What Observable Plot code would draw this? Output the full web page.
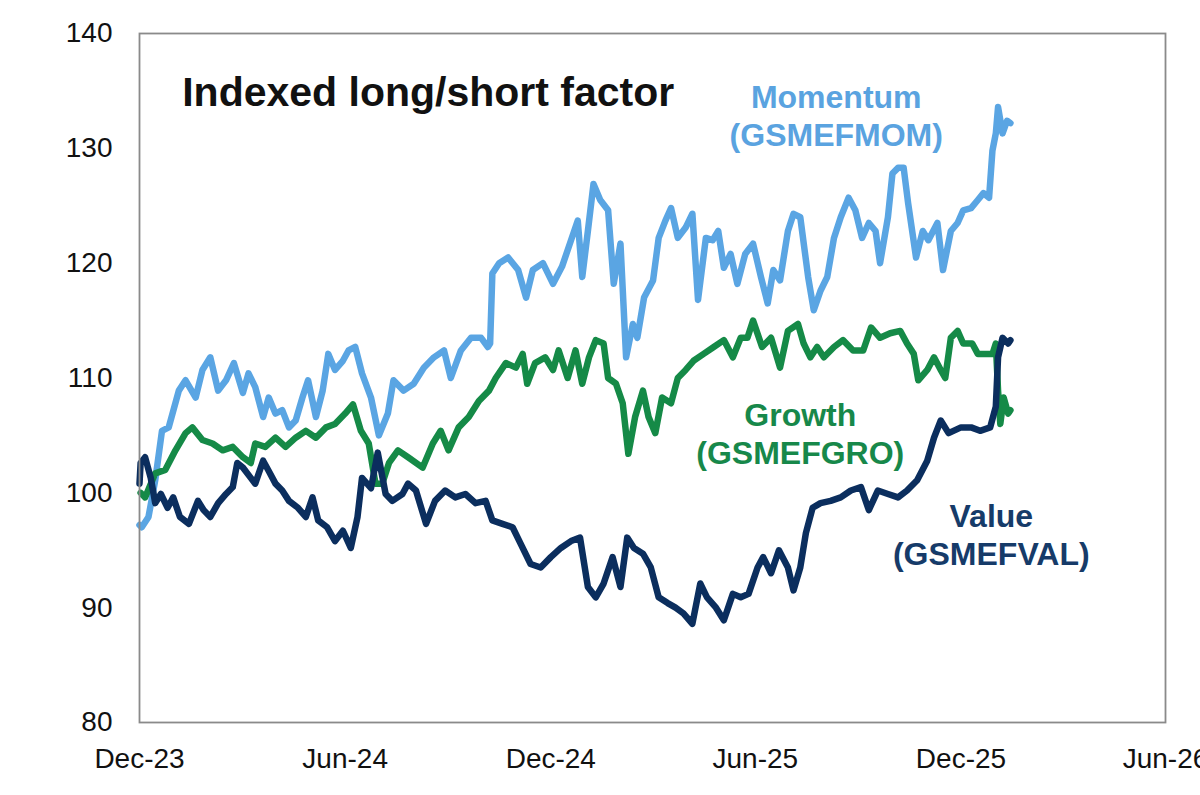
<!DOCTYPE html>
<html>
<head>
<meta charset="utf-8">
<script src="https://cdn.jsdelivr.net/npm/d3@7"></script>
<script src="https://cdn.jsdelivr.net/npm/@observablehq/plot@0.6"></script>
<style>
  html, body { margin: 0; padding: 0; background: #fff; }
  #chart { width: 1200px; height: 795px; }
</style>
</head>
<body>
<div id="chart"></div>
<script>
// ---- Tick labels ----
const xTickDates = ["2023-12-01", "2024-06-01", "2024-12-01", "2025-06-01", "2025-12-01", "2026-06-01"];
const yTicks = [80, 90, 100, 110, 120, 130, 140];

// ---- Momentum (GSMEFMOM) ----
const momDates = ["2023-12-01","2023-12-03","2023-12-09","2023-12-15","2023-12-21","2023-12-27","2024-01-05","2024-01-11","2024-01-20","2024-01-26","2024-02-02","2024-02-09","2024-02-16","2024-02-23","2024-03-02","2024-03-07","2024-03-13","2024-03-20","2024-03-25","2024-03-31","2024-04-06","2024-04-12","2024-04-18","2024-04-24","2024-04-29","2024-05-06","2024-05-12","2024-05-17","2024-05-23","2024-05-30","2024-06-04","2024-06-10","2024-06-16","2024-06-24","2024-07-01","2024-07-09","2024-07-14","2024-07-23","2024-08-01","2024-08-10","2024-08-19","2024-08-28","2024-09-03","2024-09-12","2024-09-21","2024-09-30","2024-10-06","2024-10-08","2024-10-10","2024-10-16","2024-10-24","2024-11-02","2024-11-09","2024-11-15","2024-11-24","2024-12-03","2024-12-11","2024-12-19","2024-12-25","2024-12-29","2025-01-03","2025-01-08","2025-01-14","2025-01-21","2025-01-26","2025-02-01","2025-02-06","2025-02-12","2025-02-16","2025-02-22","2025-03-02","2025-03-07","2025-03-13","2025-03-18","2025-03-24","2025-03-31","2025-04-06","2025-04-11","2025-04-18","2025-04-24","2025-04-29","2025-05-04","2025-05-10","2025-05-16","2025-05-23","2025-05-30","2025-06-06","2025-06-12","2025-06-17","2025-06-23","2025-06-30","2025-07-05","2025-07-11","2025-07-18","2025-07-23","2025-07-29","2025-08-04","2025-08-10","2025-08-16","2025-08-23","2025-08-29","2025-09-04","2025-09-10","2025-09-16","2025-09-20","2025-09-27","2025-10-01","2025-10-06","2025-10-11","2025-10-15","2025-10-22","2025-10-28","2025-11-02","2025-11-10","2025-11-15","2025-11-22","2025-11-28","2025-12-03","2025-12-10","2025-12-16","2025-12-21","2025-12-26","2025-12-29","2026-01-01","2026-01-03","2026-01-07","2026-01-11","2026-01-14"];
const momValues = [97.2,97.0,97.9,101.1,105.4,105.7,108.9,109.8,108.3,110.7,111.8,108.9,109.8,111.3,108.7,110.4,109.2,106.6,108.3,106.9,107.2,105.7,106.3,108.3,109.8,106.6,108.9,112.1,110.7,111.5,112.4,112.7,110.4,108.3,105.0,106.9,109.8,108.9,109.5,110.9,111.8,112.4,110.0,112.4,113.5,113.5,112.7,113.0,119.1,120.0,120.5,119.4,117.0,119.4,120.0,118.2,119.7,122.0,123.7,118.8,122.8,126.9,125.5,124.6,118.2,121.7,111.8,114.7,113.5,117.0,118.5,122.2,123.7,124.8,122.2,123.1,124.3,116.8,122.2,122.0,122.8,119.6,120.8,118.2,120.8,121.7,118.8,116.5,119.4,118.5,122.8,124.3,124.0,118.8,115.9,117.6,118.8,122.2,124.0,125.7,124.6,122.2,123.5,122.8,120.0,124.0,127.8,128.3,128.3,125.2,120.5,122.8,122.0,123.5,119.4,122.8,123.5,124.6,124.8,125.5,126.1,125.7,129.8,131.3,133.6,131.3,132.4,132.2];

// ---- Growth (GSMEFGRO) ----
const groDates = ["2023-12-02","2023-12-06","2023-12-15","2023-12-24","2024-01-02","2024-01-11","2024-01-17","2024-01-26","2024-02-04","2024-02-13","2024-02-22","2024-03-02","2024-03-09","2024-03-13","2024-03-22","2024-03-31","2024-04-09","2024-04-18","2024-04-27","2024-05-06","2024-05-15","2024-05-23","2024-06-01","2024-06-08","2024-06-15","2024-06-22","2024-06-28","2024-07-04","2024-07-10","2024-07-18","2024-07-27","2024-08-09","2024-08-18","2024-08-25","2024-09-01","2024-09-10","2024-09-19","2024-09-28","2024-10-07","2024-10-13","2024-10-22","2024-10-31","2024-11-06","2024-11-10","2024-11-17","2024-11-26","2024-12-03","2024-12-08","2024-12-16","2024-12-23","2024-12-29","2025-01-04","2025-01-10","2025-01-17","2025-01-21","2025-01-28","2025-02-03","2025-02-08","2025-02-14","2025-02-21","2025-02-26","2025-03-04","2025-03-10","2025-03-18","2025-03-24","2025-03-31","2025-04-07","2025-04-16","2025-04-25","2025-05-04","2025-05-12","2025-05-19","2025-05-25","2025-05-30","2025-06-07","2025-06-15","2025-06-23","2025-06-30","2025-07-09","2025-07-14","2025-07-20","2025-07-26","2025-08-01","2025-08-10","2025-08-18","2025-08-27","2025-09-05","2025-09-12","2025-09-20","2025-09-29","2025-10-08","2025-10-14","2025-10-20","2025-10-24","2025-11-01","2025-11-07","2025-11-13","2025-11-17","2025-11-22","2025-11-28","2025-12-03","2025-12-11","2025-12-16","2025-12-21","2025-12-29","2026-01-01","2026-01-03","2026-01-05","2026-01-08","2026-01-12","2026-01-14"];
const groValues = [100.0,99.6,101.7,102.0,103.7,105.2,105.7,104.6,104.3,103.7,104.0,103.1,102.6,104.3,104.0,104.8,104.0,104.8,105.4,104.8,105.7,106.0,106.9,107.7,105.4,104.3,100.8,100.8,102.6,103.7,103.1,102.2,104.3,105.4,103.7,105.7,106.6,108.0,108.9,110.0,111.3,110.9,112.1,109.5,111.3,111.8,110.7,112.4,110.0,112.4,109.5,111.8,113.3,113.0,110.0,109.5,107.8,103.4,106.6,108.9,106.6,105.2,108.3,107.8,110.0,110.7,111.5,112.1,112.7,113.3,111.8,113.5,113.5,115.0,112.7,113.5,110.9,114.1,114.7,113.0,111.8,112.7,111.8,112.7,113.3,112.4,112.4,114.4,113.5,113.9,114.1,113.0,112.1,109.8,110.7,111.8,110.7,110.0,113.5,114.1,113.0,113.0,112.1,112.1,112.1,113.0,108.9,106.0,108.3,106.9,107.2];

// ---- Value (GSMEFVAL) ----
const valDates = ["2023-12-01","2023-12-02","2023-12-06","2023-12-11","2023-12-15","2023-12-20","2023-12-26","2023-12-31","2024-01-06","2024-01-14","2024-01-22","2024-01-27","2024-02-02","2024-02-09","2024-02-16","2024-02-22","2024-02-26","2024-03-02","2024-03-09","2024-03-13","2024-03-20","2024-03-25","2024-03-31","2024-04-06","2024-04-12","2024-04-20","2024-04-27","2024-05-03","2024-05-08","2024-05-16","2024-05-23","2024-05-30","2024-06-06","2024-06-12","2024-06-16","2024-06-24","2024-06-30","2024-07-07","2024-07-13","2024-07-22","2024-07-27","2024-08-03","2024-08-12","2024-08-20","2024-08-29","2024-09-07","2024-09-16","2024-09-25","2024-10-04","2024-10-10","2024-10-19","2024-10-28","2024-11-04","2024-11-13","2024-11-22","2024-12-01","2024-12-10","2024-12-19","2024-12-27","2025-01-03","2025-01-10","2025-01-17","2025-01-25","2025-02-01","2025-02-07","2025-02-13","2025-02-21","2025-02-28","2025-03-07","2025-03-15","2025-03-22","2025-03-29","2025-04-06","2025-04-13","2025-04-19","2025-04-27","2025-05-04","2025-05-12","2025-05-19","2025-05-26","2025-06-03","2025-06-08","2025-06-15","2025-06-22","2025-06-30","2025-07-05","2025-07-11","2025-07-16","2025-07-22","2025-07-29","2025-08-07","2025-08-16","2025-08-25","2025-09-03","2025-09-10","2025-09-18","2025-09-27","2025-10-06","2025-10-14","2025-10-23","2025-11-01","2025-11-07","2025-11-13","2025-11-20","2025-12-01","2025-12-10","2025-12-18","2025-12-27","2026-01-01","2026-01-03","2026-01-07","2026-01-12","2026-01-14"];
const valValues = [100.8,102.6,103.1,101.3,99.1,99.9,98.7,99.6,97.9,97.3,99.3,98.5,97.9,99.1,99.9,100.5,102.6,102.2,101.3,100.8,102.8,101.9,100.8,100.2,99.3,98.7,97.9,99.6,97.6,97.0,95.8,96.7,95.2,97.9,101.3,100.4,103.5,99.9,99.3,99.9,100.8,100.2,97.3,99.3,100.2,99.6,99.9,99.1,99.3,97.6,97.3,97.0,95.6,93.8,93.5,94.4,95.2,95.8,96.1,91.8,90.9,92.1,94.4,91.8,96.1,95.2,94.7,93.5,90.9,90.4,90.0,89.5,88.6,92.1,90.9,90.0,88.9,91.2,90.9,91.2,93.5,94.4,93.0,95.0,93.5,91.5,93.5,96.5,98.7,99.1,99.3,99.6,100.2,100.5,98.5,100.2,99.9,99.6,100.2,101.1,102.8,104.8,106.3,105.2,105.7,105.7,105.4,105.7,107.5,111.8,113.5,113.0,113.3];

// ---- Annotations ----
const titleText = "Indexed long/short factor";
const seriesLabels = ["Momentum\n(GSMEFMOM)", "Growth\n(GSMEFGRO)", "Value\n(GSMEFVAL)"];
const labelDates = ["2025-08-12", "2025-07-11", "2025-12-28"];
const labelValues = [132.9, 105.25, 96.45];
const titleDate = "2024-01-08";
const titleValue = 134.8;

const colors = {mom: "#5aa5e3", gro: "#158a47", val: "#0b2e5e"};
const labelColors = ["#5aa3e0", "#17884a", "#163b69"];

const toRows = (dates, values) => dates.map((d, i) => ({date: new Date(d), value: values[i]}));
const mom = toRows(momDates, momValues);
const gro = toRows(groDates, groValues);
const val = toRows(valDates, valValues);
const labels = seriesLabels.map((t, i) => ({text: t, date: new Date(labelDates[i]), value: labelValues[i], color: labelColors[i]}));

const font = "'Liberation Sans', Arial, Helvetica, sans-serif";
const lineOpts = {x: "date", y: "value", strokeWidth: 6.5, strokeLinejoin: "round", strokeLinecap: "round"};

const chart = Plot.plot({
  width: 1200,
  height: 795,
  marginLeft: 139,
  marginRight: 35,
  marginTop: 33,
  marginBottom: 73,
  style: {fontFamily: font, background: "#fff", color: "#111"},
  x: {type: "utc", domain: [new Date(xTickDates[0]), new Date(xTickDates[xTickDates.length - 1])]},
  y: {domain: [yTicks[0], yTicks[yTicks.length - 1]]},
  marks: [
    Plot.axisY({ticks: yTicks, tickSize: 0, tickPadding: 27, fontSize: 28, label: null, color: "#111"}),
    Plot.axisX({ticks: xTickDates.map(d => new Date(d)), tickFormat: d3.utcFormat("%b-%y"), tickSize: 0, tickPadding: 26, fontSize: 28, label: null, color: "#111"}),
    Plot.line(mom, {...lineOpts, stroke: colors.mom}),
    Plot.line(gro, {...lineOpts, stroke: colors.gro}),
    Plot.line(val, {...lineOpts, stroke: colors.val}),
    Plot.text(labels, {x: "date", y: "value", text: "text", fill: "color", fontSize: 32, fontWeight: "bold", lineHeight: 1.19, textAnchor: "middle", lineAnchor: "middle"}),
    Plot.text([titleText], {x: () => new Date(titleDate), y: () => titleValue, text: d => d, fontSize: 41, fontWeight: "bold", fill: "#111", textAnchor: "start", lineAnchor: "middle"}),
    Plot.frame({stroke: "#8a8a8a", strokeWidth: 1.8})
  ]
});
document.getElementById("chart").appendChild(chart);
</script>
</body>
</html>
